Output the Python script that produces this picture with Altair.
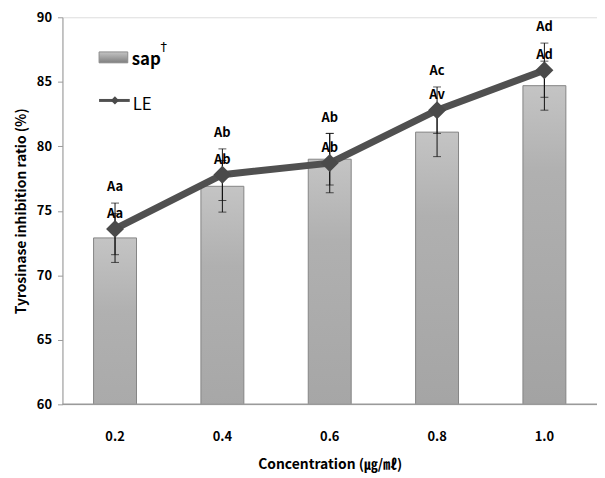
import altair as alt
import pandas as pd

conc = ["0.2", "0.4", "0.6", "0.8", "1.0"]
sap_vals = [72.9, 76.9, 79.0, 81.1, 84.7]
sap_err = [1.9, 2.0, 2.0, 1.9, 1.9]
le_vals = [73.6, 77.8, 78.7, 82.8, 85.9]
le_err = [2.0, 2.0, 2.3, 1.8, 2.1]
upper_labels = ["Aa", "Ab", "Ab", "Ac", "Ad"]
lower_labels = ["Aa", "Ab", "Ab", "Av", "Ad"]

df = pd.DataFrame({
    "conc": conc,
    "sap": sap_vals,
    "sap_lo": [v - e for v, e in zip(sap_vals, sap_err)],
    "sap_hi": [v + e for v, e in zip(sap_vals, sap_err)],
    "le": le_vals,
    "le_lo": [v - e for v, e in zip(le_vals, le_err)],
    "le_hi": [v + e for v, e in zip(le_vals, le_err)],
    "up": upper_labels,
    "low": lower_labels,
})

FONT = "Noto Sans CJK KR"
W, H = 540, 391

x_enc = alt.X("conc:N", sort=conc, title="Concentration (㎍/㎖)",
              scale=alt.Scale(paddingInner=0.6, paddingOuter=0.29),
              axis=alt.Axis(labelAngle=0, ticks=False, domain=False,
                            labelPadding=27, titlePadding=14,
                            labelFontSize=13, labelFontWeight="bold",
                            titleFontSize=14, titleFontWeight="bold",
                            labelColor="#000", titleColor="#000",
                            labelFont=FONT, titleFont=FONT))
y_scale = alt.Scale(domain=[60, 90], nice=False, zero=False)
y_enc = alt.Y("sap:Q", scale=y_scale, title="Tyrosinase inhibition ratio (%)",
              axis=alt.Axis(values=[60, 65, 70, 75, 80, 85, 90], grid=False,
                            tickSize=5, tickColor="#9a9a9a", domainColor="#9a9a9a",
                            labelFontSize=13, labelFontWeight="bold",
                            titleFontSize=14, titleFontWeight="bold",
                            labelColor="#000", titleColor="#000",
                            labelPadding=6, titlePadding=8,
                            labelFont=FONT, titleFont=FONT))

base = alt.Chart(df)

grad = alt.Gradient(
    gradient="linear", x1=0, x2=0, y1=0, y2=1,
    stops=[alt.GradientStop(offset=0, color="#c4c4c4"),
           alt.GradientStop(offset=0.08, color="#b0b0b0"),
           alt.GradientStop(offset=0.5, color="#969696"),
           alt.GradientStop(offset=1, color="#757575")])

bars = base.mark_bar(color=grad, stroke="#858585", strokeWidth=1, clip=True).encode(x=x_enc, y=y_enc)

axis_line = alt.Chart(pd.DataFrame({"v": [60]})).mark_rule(color="#9a9a9a", strokeWidth=1.5).encode(
    y=alt.Y("v:Q", scale=y_scale), x=alt.value(0), x2=alt.value(W))

sap_rule = base.mark_rule(color="#111", strokeWidth=1).encode(
    x=alt.X("conc:N", sort=conc), y=alt.Y("sap_lo:Q", scale=y_scale), y2="sap_hi:Q")
sap_cap_lo = base.mark_tick(color="#111", orient="horizontal", size=8, thickness=1).encode(
    x=alt.X("conc:N", sort=conc), y=alt.Y("sap_lo:Q", scale=y_scale))
sap_cap_hi = base.mark_tick(color="#111", orient="horizontal", size=8, thickness=1).encode(
    x=alt.X("conc:N", sort=conc), y=alt.Y("sap_hi:Q", scale=y_scale))

line = base.mark_line(color="#505050", strokeWidth=7).encode(
    x=alt.X("conc:N", sort=conc), y=alt.Y("le:Q", scale=y_scale))
pts = base.mark_point(shape="diamond", filled=True, color="#4a4a4a", size=330, opacity=1).encode(
    x=alt.X("conc:N", sort=conc), y=alt.Y("le:Q", scale=y_scale))

le_rule = base.mark_rule(color="#111", strokeWidth=1).encode(
    x=alt.X("conc:N", sort=conc), y=alt.Y("le_lo:Q", scale=y_scale), y2="le_hi:Q")
le_cap_lo = base.mark_tick(color="#111", orient="horizontal", size=8, thickness=1).encode(
    x=alt.X("conc:N", sort=conc), y=alt.Y("le_lo:Q", scale=y_scale))
le_cap_hi = base.mark_tick(color="#111", orient="horizontal", size=8, thickness=1).encode(
    x=alt.X("conc:N", sort=conc), y=alt.Y("le_hi:Q", scale=y_scale))

txt_up = base.mark_text(font=FONT, fontSize=13, fontWeight="bold", color="#000",
                        baseline="middle", dy=-16).encode(
    x=alt.X("conc:N", sort=conc), y=alt.Y("le_hi:Q", scale=y_scale), text="up:N")
txt_low = base.mark_text(font=FONT, fontSize=13, fontWeight="bold", color="#000",
                         baseline="middle", dy=-15).encode(
    x=alt.X("conc:N", sort=conc), y=alt.Y("le:Q", scale=y_scale), text="low:N")

# legend
one = alt.Chart(pd.DataFrame({"a": [0]}))
leg_bar = one.mark_rect(color=alt.Gradient(
    gradient="linear", x1=0, x2=0, y1=0, y2=1,
    stops=[alt.GradientStop(offset=0, color="#c4c4c4"),
           alt.GradientStop(offset=1, color="#7f7f7f")]), stroke="#8c8c8c").encode(
    x=alt.value(37), x2=alt.value(66), y=alt.value(35), y2=alt.value(46))
leg_sap = one.mark_text(font=FONT, fontSize=17, fontWeight="bold", align="left", baseline="alphabetic", color="#000").encode(
    x=alt.value(70), y=alt.value(48), text=alt.value("sap"))
leg_dag = one.mark_text(font="DejaVu Sans", fontSize=13, align="left", baseline="middle", color="#000").encode(
    x=alt.value(99), y=alt.value(30), text=alt.value("†"))
leg_line = one.mark_rule(color="#505050", strokeWidth=3).encode(
    x=alt.value(37), x2=alt.value(68), y=alt.value(84))
leg_pt = one.mark_point(shape="diamond", filled=True, color="#4a4a4a", size=70, opacity=1).encode(
    x=alt.value(53), y=alt.value(84))
leg_le = one.mark_text(font=FONT, fontSize=17, align="left", baseline="middle", color="#000").encode(
    x=alt.value(71), y=alt.value(89), text=alt.value("LE"))

chart = alt.layer(
    bars, axis_line, sap_rule, sap_cap_lo, sap_cap_hi,
    line, le_rule, le_cap_lo, le_cap_hi, pts,
    txt_up, txt_low,
    leg_bar, leg_sap, leg_dag, leg_line, leg_pt, leg_le,
).properties(
    width=W, height=H,
    autosize=alt.AutoSizeParams(type="none"),
    padding={"left": 55, "top": 7, "right": 0, "bottom": 70},
).configure_view(stroke=None).configure(background="white")

chart.save("out.html", embed_options={"renderer": "svg", "actions": False})
